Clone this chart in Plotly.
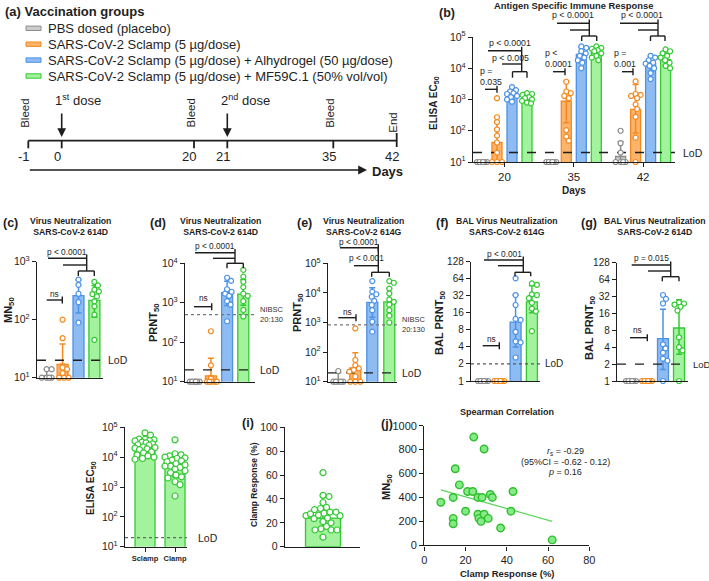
import numpy as np
import plotly.graph_objects as go

W, H = 709, 581
FONT = "Liberation Sans, Arial, sans-serif"
INK = "#1e1e1e"

# ---------------------------------------------------------------------------
# DATA
# ---------------------------------------------------------------------------
GROUP_LABELS = [
    "PBS dosed (placebo)",
    "SARS-CoV-2 Sclamp (5 µg/dose)",
    "SARS-CoV-2 Sclamp (5 µg/dose) + Alhydrogel (50 µg/dose)",
    "SARS-CoV-2 Sclamp (5 µg/dose) + MF59C.1 (50% vol/vol)",
]
GROUP_FILL = ["#cdcdcd", "#fab46c", "#8dbbf2", "#a3f29d"]
GROUP_EDGE = ["#8c8c8c", "#f5891f", "#4c92e6", "#33c933"]

# (a) schedule
TIMELINE_DAYS = [-1, 0, 20, 21, 35, 42]
BLEED_DAYS = [-1, 20, 35]
DOSE_DAYS = [0, 21]
DOSE_LABELS = ["1<sup>st</sup> dose", "2<sup>nd</sup> dose"]
END_DAY = 42

# (b) ELISA EC50 by day
B_DAYS = ["20", "35", "42"]
B_BAR = [[10, 42, 1600, 1200], [10, 880, 28000, 33000], [15, 480, 14000, 19000]]
B_LO = [[None, 10, 1000, 850], [None, 180, 15000, 22000], [10, 85, 8000, 12000]]
B_HI = [[None, 180, 2300, 1550], [None, 3800, 45000, 48000], [45, 3000, 24000, 35000]]
B_PTS_D20 = [
    [10, 10, 10, 10, 10, 10],
    [1100, 270, 190, 110, 70, 42, 20, 10, 10, 10],
    [2500, 2000, 1800, 1600, 1500, 1300, 1200, 1000, 850],
    [1600, 1500, 1400, 1200, 1100, 1000, 900, 800, 750],
]
B_PTS_D35 = [
    [10, 10, 10, 10, 10, 10],
    [3700, 1800, 1600, 1300, 1100, 105, 65, 48],
    [50000, 45000, 35000, 30000, 25000, 22000, 18000, 15000, 10000],
    [50000, 45000, 42000, 38000, 35000, 30000, 25000, 22000, 18000],
]
B_PTS_D42 = [
    [100, 40, 20, 10, 10, 10, 10],
    [3800, 1500, 1400, 1300, 1100, 700, 500, 280, 60, 10],
    [25000, 22000, 18000, 15000, 14000, 12000, 10000, 7000, 4500],
    [40000, 35000, 30000, 25000, 22000, 18000, 15000, 12000, 10000],
]
B_LOD = 20

# (c) MN50 614D
C_BAR = [10.8, 17, 260, 215]
C_LO = [None, None, 130, 110]
C_HI = [14, 38, 490, 390]
C_PTS = [
    [14, 14, 10, 10, 10, 10],
    [100, 48, 15, 14, 12, 10, 10, 10],
    [490, 400, 280, 200, 89],
    [450, 390, 330, 307, 277, 252, 207, 170, 122, 45],
]
C_LOD = 20

# (d) PRNT50 614D
D_BAR = [10, 14, 1800, 1660]
D_LO = [None, None, 850, 870]
D_HI = [None, 39, 3500, 3900]
D_PTS = [
    [10, 10, 10, 10, 10, 10],
    [190, 26, 12, 10, 10, 10, 10, 10],
    [4300, 3600, 2200, 1900, 1700, 1500, 1100, 900, 340],
    [6800, 4600, 3400, 2500, 1700, 1500, 1100, 660, 450],
]
D_LOD = 20
D_NIBSC = 500

# (e) PRNT50 614G
E_BAR = [11, 29, 4800, 5000]
E_LO = [None, None, 1500, 1800]
E_HI = [20, 95, 15000, 14000]
E_PTS = [
    [23, 10, 10, 10, 10, 10],
    [630, 54, 36, 28, 25, 22, 15, 10, 10, 10],
    [25000, 11000, 9000, 7400, 5400, 3900, 2600, 1070, 490],
    [25000, 22000, 14000, 9500, 6000, 5000, 4000, 2600, 1700, 1000],
]
E_LOD = 20
E_NIBSC = 830

# (f) BAL PRNT50 614G
F_BAR = [1, 1, 11, 25]
F_LO = [None, None, 4, 16]
F_HI = [None, None, 33, 48]
F_PTS = [
    [1, 1, 1, 1, 1, 1],
    [1, 1, 1, 1, 1, 1],
    [65, 33, 22, 12.5, 12, 7.4, 5, 4.8, 2.6],
    [53, 50, 34, 33, 29, 24, 19, 17, 7.6],
]
F_LOD = 2

# (g) BAL PRNT50 614D
G_BAR = [1, 1, 5.7, 8.8]
G_LO = [None, None, 1.6, 3]
G_HI = [None, None, 19, 28]
G_PTS = [
    [1, 1, 1, 1, 1, 1],
    [1, 1, 1, 1, 1, 1],
    [34, 29, 24, 4.5, 3.8, 3.2, 2.5, 2.3, 1],
    [25, 24, 23, 21, 18, 6, 4, 3.5, 1],
]
G_LOD = 2
LOG2_TICKS = [1, 2, 4, 8, 16, 32, 64, 128]

# (h) Sclamp vs Clamp ELISA
H_LABELS = ["Sclamp", "Clamp"]
H_BAR = [21000, 5500]
H_LO = [12000, 2200]
H_HI = [37000, 12500]
H_SCLAMP = [65000, 55000, 40000, 40000, 38000, 36000, 35000, 32000, 30000, 28000, 26000, 25000,
            22000, 21000, 20000, 19000, 18000, 15000, 14000, 12000, 11000, 10000, 9000, 8500]
H_CLAMP = [38000, 13000, 12000, 11000, 10000, 9500, 9000, 8000, 7500, 7000, 6000, 5500,
           5000, 5000, 4500, 4000, 3500, 3000, 2500, 2200, 2000, 1500, 1200, 500]
H_LOD = 20

# (i) + (j) clamp response vs MN50
CLAMP_PCT = [8, 15, 14, 14, 14, 17, 20, 21, 23.5, 24, 26, 26,
             26.5, 27.5, 28, 29, 29, 31, 32, 33, 37, 42, 43, 62]
MN50 = [360, 640, 400, 225, 180, 505, 285, 450, 450, 905, 400, 260,
        225, 200, 400, 805, 260, 225, 425, 400, 145, 285, 450, 45]
I_BAR = 24
I_LO = 15
I_HI = 38
J_STATS = ["<i>r</i><sub>s</sub> = -0.29", "(95%CI = -0.62 - 0.12)", "<i>p</i> = 0.16"]

# ---------------------------------------------------------------------------
# HELPERS (pixel layout -> paper coordinates)
# ---------------------------------------------------------------------------
fig = go.Figure()
anns, shapes, axes = [], [], {}


def text(s, x, y, size=9, bold=False, xanchor="center", yanchor="middle",
         angle=0, color=INK, align="center"):
    anns.append(dict(text=f"<b>{s}</b>" if bold else s, x=x / W, y=1 - y / H,
                     xref="paper", yref="paper", showarrow=False, xanchor=xanchor,
                     yanchor=yanchor, textangle=angle, align=align,
                     font=dict(size=size, color=color, family=FONT)))


def seg(x0, y0, x1, y1, width=1.4, color=INK):
    shapes.append(dict(type="line", xref="paper", yref="paper", x0=x0 / W, y0=1 - y0 / H,
                       x1=x1 / W, y1=1 - y1 / H, line=dict(color=color, width=width)))


def tee(x0, x1, y, cap=3.5):
    seg(x0, y, x1, y)
    seg(x1, y - cap, x1, y + cap)


def group_bracket(xa, xb, y, leg):
    seg(xa, y, xb, y)
    seg(xa, y, xa, y + leg)
    seg(xb, y, xb, y + leg)


def ax_id(i):
    return "" if i == 1 else str(i)


def add_axes(i, box, c0, unit, yr, ytype="linear", xkw=None, ykw=None):
    x0, x1, y0, y1 = box
    base = dict(showline=True, linecolor=INK, linewidth=1.4, showgrid=False, zeroline=False,
                ticks="outside", ticklen=4, tickwidth=1.2, tickcolor=INK, automargin=False,
                tickfont=dict(size=10.5, color=INK, family=FONT))
    xa = dict(base, domain=[x0 / W, x1 / W], anchor="y" + ax_id(i),
              range=[(x0 - c0) / unit, (x1 - c0) / unit])
    ya = dict(base, domain=[1 - y1 / H, 1 - y0 / H], anchor="x" + ax_id(i), range=yr, type=ytype)
    xa.update(xkw or {})
    ya.update(ykw or {})
    axes["xaxis" + ax_id(i)] = xa
    axes["yaxis" + ax_id(i)] = ya


def to_px_fn(box, yr, log):
    y0, y1 = box[2], box[3]

    def f(v):
        t = np.log10(v) if log else v
        return y1 - (t - yr[0]) / (yr[1] - yr[0]) * (y1 - y0)
    return f


def swarm(values, to_px, diam, half_w):
    ys = [to_px(v) for v in values]
    order = sorted(range(len(values)), key=lambda k: ys[k])
    steps = np.arange(0.5, half_w + 0.01, 0.5)
    cands = [0.0] + [s for st in steps for s in (st, -st)]
    placed, offs = [], [0.0] * len(values)
    for k in order:
        best, best_gap = 0.0, -1.0
        for c in cands:
            gap = min((np.hypot(c - px, ys[k] - py) for px, py in placed), default=1e9)
            if gap >= diam:
                best = c
                break
            if gap > best_gap:
                best, best_gap = c, gap
        offs[k] = best
        placed.append((best, ys[k]))
    return offs


def add_bar(i, x, y, lo, hi, fill, edge, width):
    err = dict(visible=False)
    if hi is not None:
        lo = y if lo is None else lo
        err = dict(type="data", symmetric=False, array=[hi - y], arrayminus=[y - lo],
                   color=edge, thickness=1.5, width=3)
    fig.add_trace(go.Bar(x=[x], y=[y], width=width, marker=dict(color=fill, line=dict(color=edge, width=1.3)),
                         error_y=err, xaxis="x" + ax_id(i), yaxis="y" + ax_id(i), hoverinfo="skip"))


def add_points(i, x, vals, to_px, unit, half_w, edge, size, fill="white"):
    offs = swarm(vals, to_px, size * 0.95, half_w)
    fig.add_trace(go.Scatter(x=[x + o / unit for o in offs], y=vals, mode="markers", cliponaxis=False,
                             marker=dict(size=size, color=fill, line=dict(color=edge, width=1.2)),
                             xaxis="x" + ax_id(i), yaxis="y" + ax_id(i), hoverinfo="skip"))


def add_hline(i, box, c0, unit, yval, color, dash, width=1.3):
    xr = [(box[0] - c0) / unit, (box[1] - c0) / unit]
    fig.add_trace(go.Scatter(x=xr, y=[yval, yval], mode="lines", line=dict(color=color, dash=dash, width=width),
                             xaxis="x" + ax_id(i), yaxis="y" + ax_id(i), hoverinfo="skip"))


def log_ticks(lo, hi):
    return dict(tickmode="array", tickvals=[10 ** k for k in range(lo, hi + 1)],
                ticktext=[f"10<sup>{k}</sup>" for k in range(lo, hi + 1)])


# ---------------------------------------------------------------------------
# (a) Vaccination groups + schedule
# ---------------------------------------------------------------------------
text("(a) Vaccination groups", 3, 11, size=13, bold=True, xanchor="left")
for k, label in enumerate(GROUP_LABELS):
    yk = 28.3 + 15.9 * k
    shapes.append(dict(type="rect", xref="paper", yref="paper", x0=26 / W, x1=41 / W,
                       y0=1 - (yk + 2.2) / H, y1=1 - (yk - 2.2) / H,
                       fillcolor=GROUP_FILL[k], line=dict(color=GROUP_EDGE[k], width=1)))
    text(label, 46, yk, size=13, xanchor="left")

TL_PX = {-1: 28.3, 0: 61.7, 20: 194, 21: 227.3, 35: 333.3, 42: 396.7}
TL_Y = 140.7
seg(TL_PX[-1], TL_Y, TL_PX[END_DAY], TL_Y, width=1.8)
for d in TIMELINE_DAYS:
    if d == END_DAY:
        seg(TL_PX[d], 133, TL_PX[d], 147, width=1.8)
    else:
        seg(TL_PX[d], TL_Y, TL_PX[d], 148.3, width=1.8)
    text(str(d), TL_PX[d] - 4.5, 156, size=13)
for d in BLEED_DAYS:
    text("Bleed", TL_PX[d] - 3.5, 113, size=11.5, angle=-90)
text("End", TL_PX[END_DAY] - 3.5, 122.5, size=11.5, angle=-90)
for d, lab in zip(DOSE_DAYS, DOSE_LABELS):
    text(lab, TL_PX[d] - 8.5, 100, size=13, xanchor="left")
    anns.append(dict(x=TL_PX[d] / W, y=1 - 137 / H, xref="paper", yref="paper", ax=0, ay=-25,
                     showarrow=True, arrowhead=2, arrowsize=1.1, arrowwidth=1.6, arrowcolor=INK, text=""))
anns.append(dict(x=367 / W, y=1 - 170 / H, xref="paper", yref="paper", ax=28.3 - 367, ay=0,
                 showarrow=True, arrowhead=2, arrowsize=1.1, arrowwidth=1.6, arrowcolor=INK, text=""))
text("Days", 370, 171, size=13, bold=True, xanchor="left")

# ---------------------------------------------------------------------------
# (b) Antigen specific immune response
# ---------------------------------------------------------------------------
BOX_B = (473, 675, 37, 162)
B_C0, B_UNIT, B_OFF = 504.5, 69.3, [-22.5, -7.5, 7.5, 22.5]
YR_B = [1, 5]
add_axes(1, BOX_B, B_C0, B_UNIT, YR_B, "log",
         xkw=dict(tickmode="array", tickvals=[0, 1, 2], ticktext=B_DAYS, tickfont=dict(size=11.5, family=FONT, color=INK)),
         ykw=log_ticks(1, 5))
pxb = to_px_fn(BOX_B, YR_B, True)
add_hline(1, BOX_B, B_C0, B_UNIT, B_LOD, INK, "dash", 1.5)
b_pts = [B_PTS_D20, B_PTS_D35, B_PTS_D42]
for d in range(3):
    for g in range(4):
        add_bar(1, d + B_OFF[g] / B_UNIT, B_BAR[d][g], B_LO[d][g], B_HI[d][g],
                GROUP_FILL[g], GROUP_EDGE[g], 10 / B_UNIT)
for d in range(3):
    for g in range(4):
        add_points(1, d + B_OFF[g] / B_UNIT, b_pts[d][g], pxb, B_UNIT, 5, GROUP_EDGE[g], 5)
text("Antigen Specific Immune Response", 573, 5.5, size=9.4, bold=True)
text("(b)", 447, 13, size=12.5, bold=True)
text("ELISA EC<sub>50</sub>", 434, 103, size=10, bold=True, angle=-90)
text("Days", 574, 190, size=10, bold=True)
text("LoD", 681, pxb(B_LOD), size=10.5, xanchor="left")
# brackets
text("p =<br>0.035", 478, 76, size=8.8, xanchor="left", align="left")
tee(485, 497, 89.3)
text("p < 0.0001", 509.5, 42.7, size=8.8)
seg(488, 50.7, 521.7, 50.7)
text("p < 0.005", 510.5, 58.5, size=8.8)
seg(502, 64, 521.7, 64)
seg(521.7, 46.7, 521.7, 71.7)
group_bracket(512.5, 527, 71.7, 6)
for xl, lab, xt, xs in [(543, "p <<br>0.0001", 553, 565), (612, "p =<br>0.001", 622, 633)]:
    text(lab, xl, 58, size=8.8, xanchor="left", align="left")
    tee(xt, xs, 71.7)
stems = [(557, 570, 589.3, 581.7, 596.7, 572.5), (620, 638, 658, 650.5, 665, 641.5)]
for xa, xb, xs, bl, br, xt in stems:
    text("p < 0.0001", xt, 15.5, size=8.8)
    seg(xa, 23.3, xs, 23.3)
    seg(xb, 30, xs, 30)
    seg(xs, 19.5, xs, 36)
    group_bracket(bl, br, 36, 5)

# ---------------------------------------------------------------------------
# (c)-(g) neutralisation panels
# ---------------------------------------------------------------------------
small_panels = [
    # idx, box, c0, unit, yr, bars, lo, hi, pts, lod, lod_dash, nibsc, lod label size
    (2, (37, 103, 261.7, 377.7), 46.7, 15.9, [1, 3], C_BAR, C_LO, C_HI, C_PTS, C_LOD, "dash", None, 10.5),
    (3, (185, 255, 263.3, 381.7), 194.7, 16.2, [1, 4], D_BAR, D_LO, D_HI, D_PTS, D_LOD, "dash", D_NIBSC, 10.5),
    (4, (328, 397, 263.3, 381.7), 338.3, 17.0, [1, 5], E_BAR, E_LO, E_HI, E_PTS, E_LOD, "dash", E_NIBSC, 10.5),
    (5, (471, 540, 261.7, 381), 483, 16.3, [0, np.log10(128)], F_BAR, F_LO, F_HI, F_PTS, F_LOD, "dot", None, 10),
    (6, (617, 688, 262.7, 381), 631, 16.0, [0, np.log10(128)], G_BAR, G_LO, G_HI, G_PTS, G_LOD, "dash", None, 9.5),
]
for i, box, c0, unit, yr, bars, lo, hi, pts, lod, lod_dash, nibsc, lsz in small_panels:
    if yr[0] == 0:
        yk = dict(tickmode="array", tickvals=LOG2_TICKS, ticktext=[str(v) for v in LOG2_TICKS],
                  tickfont=dict(size=10, family=FONT, color=INK))
    else:
        yk = log_ticks(int(yr[0]), int(yr[1]))
    add_axes(i, box, c0, unit, yr, "log", xkw=dict(showticklabels=False, ticks=""), ykw=yk)
    pxf = to_px_fn(box, yr, True)
    lod_col = "#555555" if lod_dash == "dot" else INK
    add_hline(i, box, c0, unit, lod, lod_col, lod_dash, 1.3)
    text("LoD", box[1] + 2.5, pxf(lod), size=lsz, xanchor="left")
    if nibsc is not None:
        add_hline(i, box, c0, unit, nibsc, "#777777", "dot", 1.2)
        text("NIBSC<br>20:130", box[1] + 3, pxf(nibsc), size=7.5, xanchor="left", align="left", color="#333")
    for g in range(4):
        add_bar(i, g, bars[g], lo[g], hi[g], GROUP_FILL[g], GROUP_EDGE[g], 11 / unit)
    for g in range(4):
        add_points(i, g, pts[g], pxf, unit, 6, GROUP_EDGE[g], 5)

PT = 8.3
# (c)
text("(c)", 10, 223, size=12.5, bold=True)
text("Virus Neutralization<br>SARS-CoV-2 614D", 70, 227, size=8.7, bold=True)
text("MN<sub>50</sub>", 9, 310, size=11, bold=True, angle=-90)
text("p < 0.0001", 67, 252, size=PT)
seg(48, 258.3, 86.7, 258.3)
seg(63, 265, 86.7, 265)
seg(86.7, 254.5, 86.7, 271)
group_bracket(78.3, 94.3, 271, 5)
text("ns", 54.5, 294.3, size=PT)
tee(46.7, 62.3, 300)
# (d)
text("(d)", 157.5, 223, size=12.5, bold=True)
text("Virus Neutralization<br>SARS-CoV-2 614D", 220, 227, size=8.7, bold=True)
text("PRNT<sub>50</sub>", 154, 323, size=11, bold=True, angle=-90)
text("p < 0.0001", 215, 245.7, size=PT)
seg(195, 252.7, 235, 252.7)
seg(213, 258.3, 235, 258.3)
seg(235, 249, 235, 263.3)
group_bracket(227, 243.3, 263.3, 5)
text("ns", 203, 298.3, size=PT)
tee(194, 211.7, 306.7)
# (e)
text("(e)", 304, 223, size=12.5, bold=True)
text("Virus Neutralization<br>SARS-CoV-2 614G", 363, 227, size=8.7, bold=True)
text("PRNT<sub>50</sub>", 298, 313, size=11, bold=True, angle=-90)
text("p < 0.0001", 358.5, 241.7, size=PT)
tee(340, 378.3, 247.7)
text("p < 0.001", 366, 258.3, size=PT)
seg(354, 265.7, 378.3, 265.7)
seg(378.3, 247.7, 378.3, 272.3)
group_bracket(371.7, 389.3, 272.3, 4.5)
text("ns", 347, 311.7, size=PT)
tee(338.3, 356, 317.7)
# (f)
text("(f)", 442.5, 223, size=12.5, bold=True)
text("BAL Virus Neutralization<br>SARS-CoV-2 614G", 507, 227, size=8.7, bold=True)
text("BAL PRNT<sub>50</sub>", 440, 323, size=11, bold=True, angle=-90)
text("p < 0.001", 504, 254.3, size=PT)
seg(484, 260, 523.3, 260)
seg(498, 265.7, 523.3, 265.7)
seg(523.3, 256.5, 523.3, 272.3)
group_bracket(515, 530.7, 272.3, 4)
text("ns", 491, 339, size=PT)
tee(482.7, 499.3, 345.7)
# (g)
text("(g)", 588.5, 223, size=12.5, bold=True)
text("BAL Virus Neutralization<br>SARS-CoV-2 614D", 655, 227, size=8.7, bold=True)
text("BAL PRNT<sub>50</sub>", 590, 328, size=11, bold=True, angle=-90)
text("p = 0.015", 651, 258.3, size=PT)
seg(631.7, 265, 670.7, 265)
seg(648, 271, 670.7, 271)
seg(670.7, 261.5, 670.7, 276.7)
group_bracket(662.3, 679, 276.7, 4.5)
text("ns", 637.5, 330, size=PT)
tee(630, 647.3, 337.7)

# ---------------------------------------------------------------------------
# (h) Sclamp vs Clamp ELISA
# ---------------------------------------------------------------------------
BOX_H = (125, 187, 427.3, 546.7)
add_axes(7, BOX_H, 145, 30, [1, 5], "log",
         xkw=dict(tickmode="array", tickvals=[0, 1], ticktext=[f"<b>{s}</b>" for s in H_LABELS],
                  tickfont=dict(size=7.5, family=FONT, color=INK)),
         ykw=log_ticks(1, 5))
pxh = to_px_fn(BOX_H, [1, 5], True)
add_hline(7, BOX_H, 145, 30, H_LOD, "#666666", "dot", 1.3)
text("LoD", 196, pxh(H_LOD), size=10.5, xanchor="left")
for g in range(2):
    add_bar(7, g, H_BAR[g], H_LO[g], H_HI[g], GROUP_FILL[3], GROUP_EDGE[3], 20 / 30)
for g, vals in enumerate([H_SCLAMP, H_CLAMP]):
    add_points(7, g, vals, pxh, 30, 10, GROUP_EDGE[3], 6)
text("ELISA EC<sub>50</sub>", 91, 488, size=10, bold=True, angle=-90)

# ---------------------------------------------------------------------------
# (i) Clamp response
# ---------------------------------------------------------------------------
BOX_I = (285, 360, 427.3, 546.7)
add_axes(8, BOX_I, 323, 50, [0, 100], "linear",
         xkw=dict(showticklabels=False, ticks=""),
         ykw=dict(dtick=20, tickfont=dict(size=10.5, family=FONT, color=INK)))
pxi = to_px_fn(BOX_I, [0, 100], False)
add_bar(8, 0, I_BAR, I_LO, I_HI, GROUP_FILL[3], GROUP_EDGE[3], 35 / 50)
add_points(8, 0, CLAMP_PCT, pxi, 50, 17, GROUP_EDGE[3], 6)
text("(i)", 248, 423, size=12.5, bold=True)
text("Clamp Response (%)", 254, 485, size=8.5, bold=True, angle=-90)

# ---------------------------------------------------------------------------
# (j) Spearman correlation
# ---------------------------------------------------------------------------
BOX_J = (424.3, 589.3, 425.7, 545.3)
add_axes(9, BOX_J, 424.3, 165 / 80, [0, 1000], "linear",
         xkw=dict(dtick=20, tickfont=dict(size=11, family=FONT, color=INK)),
         ykw=dict(dtick=200, tickfont=dict(size=11, family=FONT, color=INK)))
coef = np.polyfit(CLAMP_PCT, MN50, 1)
xfit = np.array([min(CLAMP_PCT), max(CLAMP_PCT)])
fig.add_trace(go.Scatter(x=xfit, y=np.polyval(coef, xfit), mode="lines",
                         line=dict(color="#5fd65f", width=1.3), xaxis="x9", yaxis="y9", hoverinfo="skip"))
fig.add_trace(go.Scatter(x=CLAMP_PCT, y=MN50, mode="markers", cliponaxis=False,
                         marker=dict(size=7.5, color="#86ea86", line=dict(color="#2fbf2f", width=1.4)),
                         xaxis="x9", yaxis="y9", hoverinfo="skip"))
text("Spearman Correlation", 507, 412, size=9, bold=True)
text("(j)", 387, 424, size=12.5, bold=True)
text("MN<sub>50</sub>", 387, 487, size=11, bold=True, angle=-90)
text("Clamp Response (%)", 507, 573, size=9.5, bold=True)
for k, s in enumerate(J_STATS):
    text(s, 565, 451 + 10.5 * k, size=9)

fig.update_layout(
    width=W, height=H, margin=dict(l=0, r=0, t=0, b=0, pad=0, autoexpand=False),
    paper_bgcolor="white", plot_bgcolor="white", showlegend=False,
    barmode="overlay", font=dict(family=FONT, color=INK),
    annotations=anns, shapes=shapes, **axes,
)
# the page body carries a default 8px margin; drop it so the figure sits at the window's origin
fig.write_html("out.html", config={"displayModeBar": False},
               post_script="document.body.style.margin = '0px';")
